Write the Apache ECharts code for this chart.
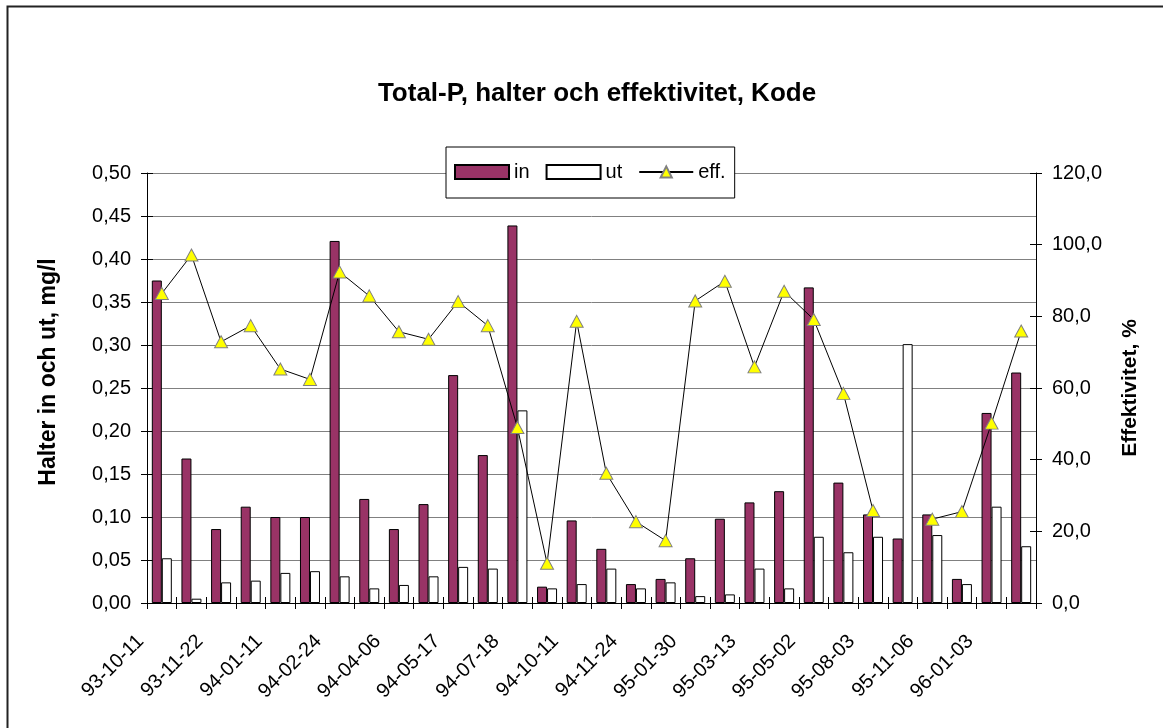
<!DOCTYPE html>
<html>
<head>
<meta charset="utf-8">
<title>Total-P, halter och effektivitet, Kode</title>
<script src="https://cdn.jsdelivr.net/npm/echarts@6/dist/echarts.min.js"></script>
<style>
    html, body { margin: 0; padding: 0; background: #fff; }
    #chart { width: 1163px; height: 728px; }
</style>
</head>
<body>
<div id="chart"></div>
<script>
// provtagningsdatum (varannan etikett visas)
const categories = [
    "93-10-11", "93-11-01", "93-11-22", "93-12-13", "94-01-11", "94-02-01",
    "94-02-24", "94-03-16", "94-04-06", "94-04-26", "94-05-17", "94-06-14",
    "94-07-18", "94-08-22", "94-10-11", "94-10-31", "94-11-24", "94-12-19",
    "95-01-30", "95-02-20", "95-03-13", "95-04-03", "95-05-02", "95-06-12",
    "95-08-03", "95-09-25", "95-11-06", "95-12-04", "96-01-03", "96-02-07"
];
// halter, mg/l
const inValues = [
    0.375, 0.168, 0.086, 0.112, 0.100, 0.100, 0.421, 0.121, 0.086, 0.115,
    0.265, 0.172, 0.439, 0.019, 0.096, 0.063, 0.022, 0.028, 0.052, 0.098,
    0.117, 0.130, 0.367, 0.140, 0.103, 0.075, 0.103, 0.028, 0.221, 0.268
];
const utValues = [
    0.052, 0.005, 0.024, 0.026, 0.035, 0.037, 0.031, 0.017, 0.021, 0.031,
    0.042, 0.040, 0.224, 0.017, 0.022, 0.040, 0.017, 0.024, 0.008, 0.010,
    0.040, 0.017, 0.077, 0.059, 0.077, 0.301, 0.079, 0.022, 0.112, 0.066
];
// effektivitet, %
const effValues = [
    86.4, 97.1, 72.9, 77.4, 65.3, 62.4, 92.4, 85.7, 75.7, 73.6,
    84.1, 77.4, 49.0, 11.1, 78.6, 36.2, 22.7, 17.4, 84.3, 89.8,
    65.9, 87.0, 79.1, 58.5, 25.8, null, 23.4, 25.5, 50.2, 75.9
];
const leftTicks = [0, 0.5, 0.05];
const rightTicks = [0, 120, 20];

const font = "Liberation Sans";
const myChart = echarts.init(document.getElementById("chart"));

// axes used only to draw the crossing half of the tick marks
const innerTickY = (pos, t) => ({
    type: "value",
    position: pos,
    min: t[0],
    max: t[1],
    interval: t[2],
    axisLine: {show: false},
    axisTick: {show: true, inside: true, length: 6, lineStyle: {color: "#000"}},
    axisLabel: {show: false},
    splitLine: {show: false}
});

const option = {
    backgroundColor: "#fff",
    animation: false,
    textStyle: {fontFamily: font},
    title: {
        text: "Total-P, halter och effektivitet, Kode",
        left: 592,
        top: 76,
        textAlign: "center",
        textStyle: {fontFamily: font, fontWeight: "bold", fontSize: 26, color: "#000"}
    },
    legend: {
        left: 446,
        top: 147,
        padding: [15, 9, 16, 8],
        itemWidth: 54,
        itemHeight: 14,
        itemGap: 16,
        backgroundColor: "#fff",
        borderColor: "#000",
        borderWidth: 1,
        borderRadius: 0,
        textStyle: {fontFamily: font, fontSize: 20, color: "#000"},
        data: [
            {name: "in", icon: "rect"},
            {name: "ut", icon: "rect"},
            {name: "eff."}
        ]
    },
    grid: {left: 147, right: 127, top: 173, bottom: 125},
    xAxis: [
        {
            type: "category",
            data: categories,
            axisLine: {lineStyle: {color: "#000"}},
            axisTick: {show: true, interval: 0, length: 6, lineStyle: {color: "#000"}},
            axisLabel: {
                interval: 1,
                rotate: 45,
                margin: 14,
                padding: [0, 30, 0, 0],
                fontFamily: font,
                fontSize: 20,
                color: "#000"
            }
        },
        {
            type: "category",
            position: "bottom",
            data: categories,
            axisLine: {show: false},
            axisTick: {show: true, inside: true, interval: 0, length: 6, lineStyle: {color: "#000"}},
            axisLabel: {show: false}
        }
    ],
    yAxis: [
        {
            type: "value",
            position: "left",
            min: leftTicks[0],
            max: leftTicks[1],
            interval: leftTicks[2],
            name: "Halter in och ut, mg/l",
            nameLocation: "middle",
            nameGap: 87,
            nameTextStyle: {fontFamily: font, fontWeight: "bold", fontSize: 23, color: "#000", padding: [0, 0, 0, 32]},
            axisLine: {show: true, lineStyle: {color: "#000"}},
            axisTick: {show: true, length: 6, lineStyle: {color: "#000"}},
            axisLabel: {
                margin: 16,
                fontFamily: font,
                fontSize: 20,
                color: "#000",
                formatter: (v) => v.toFixed(2).replace(".", ",")
            },
            splitLine: {show: true, lineStyle: {color: "#808080", width: 1}}
        },
        {
            type: "value",
            position: "right",
            min: rightTicks[0],
            max: rightTicks[1],
            interval: rightTicks[2],
            name: "Effektivitet, %",
            nameLocation: "middle",
            nameGap: 84,
            nameTextStyle: {fontFamily: font, fontWeight: "bold", fontSize: 21, color: "#000"},
            axisLine: {show: true, lineStyle: {color: "#000"}},
            axisTick: {show: true, length: 6, lineStyle: {color: "#000"}},
            axisLabel: {
                margin: 16,
                fontFamily: font,
                fontSize: 20,
                color: "#000",
                formatter: (v) => v.toFixed(1).replace(".", ",")
            },
            splitLine: {show: false}
        },
        innerTickY("left", leftTicks),
        innerTickY("right", rightTicks)
    ],
    series: [
        {
            name: "in",
            type: "bar",
            yAxisIndex: 0,
            barWidth: 10,
            barGap: "0%",
            itemStyle: {color: "#993366", borderColor: "#000", borderWidth: 1},
            data: inValues
        },
        {
            name: "ut",
            type: "bar",
            yAxisIndex: 0,
            barWidth: 10,
            barGap: "0%",
            itemStyle: {color: "#fff", borderColor: "#000", borderWidth: 1},
            data: utValues
        },
        {
            name: "eff.",
            type: "line",
            yAxisIndex: 1,
            symbol: "triangle",
            symbolSize: [13, 12],
            connectNulls: false,
            lineStyle: {color: "#000", width: 1},
            itemStyle: {color: "#ffff00", borderColor: "#808080", borderWidth: 1},
            data: effValues
        }
    ],
    graphic: [
        {
            type: "rect",
            shape: {x: 7.5, y: 6.5, width: 1300, height: 900},
            style: {fill: null, stroke: "#222", lineWidth: 2},
            silent: true
        }
    ]
};

option && myChart.setOption(option);
</script>
</body>
</html>
